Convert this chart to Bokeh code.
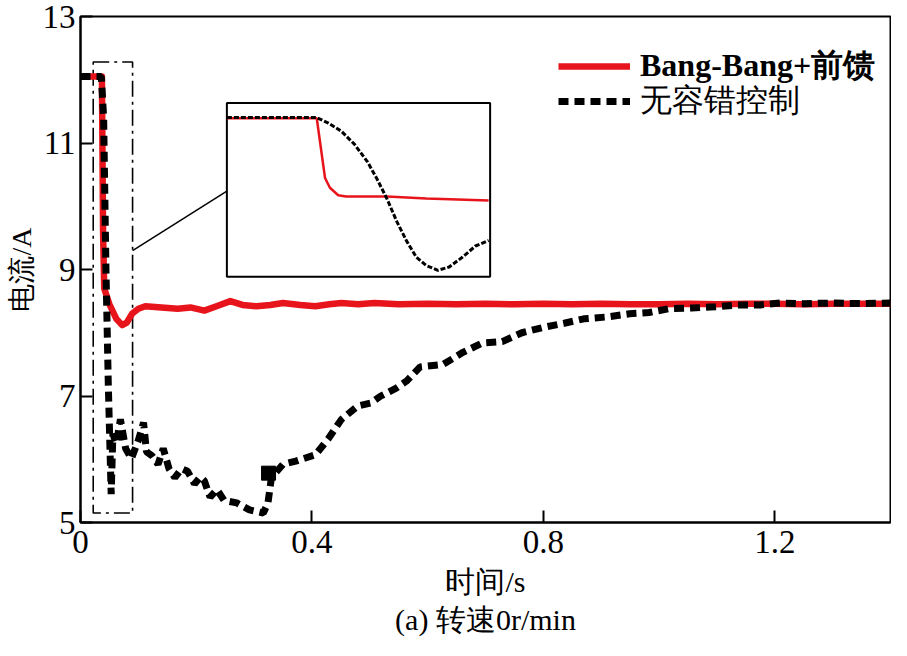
from bokeh.plotting import figure
from bokeh.models import Range1d, Legend, LegendItem, Title, FixedTicker
from bokeh.embed import file_html
from bokeh.resources import INLINE

# ---------------- data ----------------
# Bang-Bang + feed-forward (red)
red_t = [0.0, 0.037, 0.039, 0.041, 0.050, 0.062, 0.072, 0.080, 0.089, 0.100,
         0.112, 0.140, 0.168, 0.190, 0.214, 0.235, 0.259, 0.280, 0.304, 0.328,
         0.350, 0.380, 0.406, 0.430, 0.451, 0.480, 0.508, 0.55, 0.6, 0.65,
         0.7, 0.75, 0.8, 0.85, 0.9, 0.95, 1.0, 1.05, 1.1, 1.15,
         1.2, 1.25, 1.3, 1.35, 1.4]
red_i = [12.05, 12.05, 9.6, 8.70, 8.45, 8.22, 8.12, 8.16, 8.30, 8.38,
         8.42, 8.40, 8.38, 8.40, 8.35, 8.42, 8.50, 8.44, 8.42, 8.44,
         8.47, 8.44, 8.42, 8.45, 8.47, 8.45, 8.47, 8.45, 8.46, 8.45,
         8.46, 8.45, 8.46, 8.45, 8.46, 8.45, 8.45, 8.46, 8.45, 8.46,
         8.46, 8.45, 8.46, 8.46, 8.46]

# no fault-tolerant control (black dashed)
black_t = [0.0, 0.036, 0.040, 0.044, 0.048, 0.053, 0.056, 0.062, 0.069, 0.078,
           0.088, 0.100, 0.109, 0.114, 0.124, 0.134, 0.143, 0.153, 0.163, 0.175,
           0.185, 0.197, 0.207, 0.214, 0.224, 0.236, 0.248, 0.270, 0.292, 0.316,
           0.324, 0.330, 0.350, 0.372, 0.406, 0.428, 0.451, 0.479, 0.502, 0.519,
           0.545, 0.564, 0.587, 0.627, 0.661, 0.695, 0.729, 0.763, 0.802, 0.836,
           0.870, 0.910, 0.949, 0.983, 1.017, 1.056, 1.097, 1.136, 1.175, 1.209,
           1.25, 1.3, 1.35, 1.4]
black_i = [12.05, 12.05, 11.4, 9.0, 7.2, 5.45, 6.40, 6.25, 6.63, 6.17,
           6.01, 6.30, 6.58, 6.12, 6.05, 5.92, 6.17, 5.85, 5.71, 5.85,
           5.81, 5.61, 5.72, 5.66, 5.40, 5.52, 5.35, 5.31, 5.20, 5.15,
           5.31, 5.71, 5.92, 5.97, 6.07, 6.32, 6.63, 6.84, 6.89, 7.0,
           7.12, 7.24, 7.46, 7.50, 7.69, 7.84, 7.86, 8.0, 8.09, 8.15,
           8.22, 8.25, 8.30, 8.32, 8.38, 8.39, 8.41, 8.44, 8.44, 8.47,
           8.46, 8.47, 8.46, 8.47]

# isolated square sample on the black trace
spot_t = [0.325]
spot_i = [5.78]

# zoomed (inset) traces
inset_rt = [0.02, 0.0439, 0.0461, 0.0474, 0.0496, 0.0517, 0.0626, 0.0730, 0.0896]
inset_ri = [12.02, 12.02, 9.32, 8.88, 8.54, 8.49, 8.49, 8.40, 8.30]
inset_bt = [0.02, 0.0439, 0.0470, 0.0504, 0.0539, 0.0574, 0.0600, 0.0626, 0.0652,
            0.0678, 0.0704, 0.0730, 0.0761, 0.0791, 0.0826, 0.0861, 0.0896]
inset_bi = [12.05, 12.05, 11.80, 11.44, 10.85, 10.05, 9.25, 8.37, 7.35,
            6.47, 5.74, 5.37, 5.15, 5.30, 5.74, 6.25, 6.50]

x_ticks = [0, 0.4, 0.8, 1.2]
y_ticks = [5, 7, 9, 11, 13]

label_red = "Bang-Bang+前馈"
label_black = "无容错控制"
x_label = "时间/s"
y_label = "电流/A"
caption = "(a) 转速0r/min"

# ---------------- layout constants ----------------
zoom_box = dict(left=0.022, right=0.090, bottom=5.15, top=12.28)
connector_y = (9.3, 10.24)
inset_box = dict(left=0.253, right=0.708, bottom=8.885, top=11.633)
inset_view = dict(left=0.02, right=0.09, bottom=4.86, top=12.71)

SERIF = "Liberation Serif"

p = figure(width=891, height=640, x_range=Range1d(0, 1.4), y_range=Range1d(5, 13),
           output_backend="svg", toolbar_location=None,
           min_border_left=80, min_border_right=1, min_border_top=16,
           min_border_bottom=118)
p.grid.visible = False
p.outline_line_color = "black"
p.outline_line_width = 2
p.background_fill_color = "white"
p.border_fill_color = "white"

for ax in (p.xaxis[0], p.yaxis[0]):
    ax.axis_line_width = 2
    ax.axis_line_color = "black"
    ax.major_tick_in = 12
    ax.major_tick_out = 0
    ax.major_tick_line_width = 2
    ax.minor_tick_line_color = None
    ax.major_label_text_font = SERIF
    ax.major_label_text_font_size = "33px"
    ax.major_label_text_color = "black"
    ax.axis_label_text_font = SERIF
    ax.axis_label_text_font_style = "normal"
    ax.axis_label_text_color = "black"

p.xaxis.ticker = FixedTicker(ticks=x_ticks)
p.yaxis.ticker = FixedTicker(ticks=y_ticks)
p.xaxis.major_label_overrides = {0: "0", 0.4: "0.4", 0.8: "0.8", 1.2: "1.2"}
p.xaxis.axis_label = x_label
p.yaxis.axis_label = y_label
p.xaxis.axis_label_text_font_size = "30px"
p.yaxis.axis_label_text_font_size = "28px"
p.xaxis.major_label_standoff = 8
p.yaxis.major_label_standoff = 5
p.xaxis.axis_label_standoff = 9
p.yaxis.axis_label_standoff = 3

# zoom indicator rectangle (dash-dot)
p.quad(left=[zoom_box["left"]], right=[zoom_box["right"]],
       bottom=[zoom_box["bottom"]], top=[zoom_box["top"]],
       fill_color=None, line_color="black", line_width=1.6, line_dash="16 5 3 5")

# main traces
r_red = p.line(red_t, red_i, line_color="#e8141b", line_width=6.5, line_join="round")
r_black = p.line(black_t, black_i, line_color="black", line_width=7, line_dash="10 6")
p.scatter(spot_t, spot_i, marker="square", size=14, fill_color="black", line_color="black")

# connector from zoom rect to inset
p.line([zoom_box["right"], inset_box["left"]], list(connector_y), line_color="black", line_width=1.5)

# inset panel
p.quad(left=[inset_box["left"]], right=[inset_box["right"]],
       bottom=[inset_box["bottom"]], top=[inset_box["top"]],
       fill_color="white", line_color="black", line_width=2)


def map_x(ts):
    sx = (inset_box["right"] - inset_box["left"]) / (inset_view["right"] - inset_view["left"])
    return [inset_box["left"] + (t - inset_view["left"]) * sx for t in ts]


def map_y(vs):
    sy = (inset_box["top"] - inset_box["bottom"]) / (inset_view["top"] - inset_view["bottom"])
    return [inset_box["bottom"] + (v - inset_view["bottom"]) * sy for v in vs]


p.line(map_x(inset_rt), map_y(inset_ri), line_color="#e8141b", line_width=2.5)
p.line(map_x(inset_bt), map_y(inset_bi), line_color="black", line_width=3, line_dash="5 2")

# legends
common = dict(padding=0, margin=0, spacing=0, border_line_alpha=0, background_fill_alpha=0,
              glyph_width=72, glyph_height=34, label_height=34, label_standoff=10,
              label_text_font=SERIF, label_text_font_size="32px", label_text_color="black")
leg1 = Legend(items=[LegendItem(label=label_red, renderers=[r_red])],
              location=(478, 434), label_text_font_style="bold", **common)
leg2 = Legend(items=[LegendItem(label=label_black, renderers=[r_black])],
              location=(478, 399), label_text_font_style="normal", **common)
p.add_layout(leg1)
p.add_layout(leg2)

cap = Title(text=caption, align="center", text_font=SERIF, text_font_size="30px",
            text_font_style="normal", text_color="black", standoff=0)
p.add_layout(cap, "below")

open("out.html", "w").write(file_html(p, INLINE))
